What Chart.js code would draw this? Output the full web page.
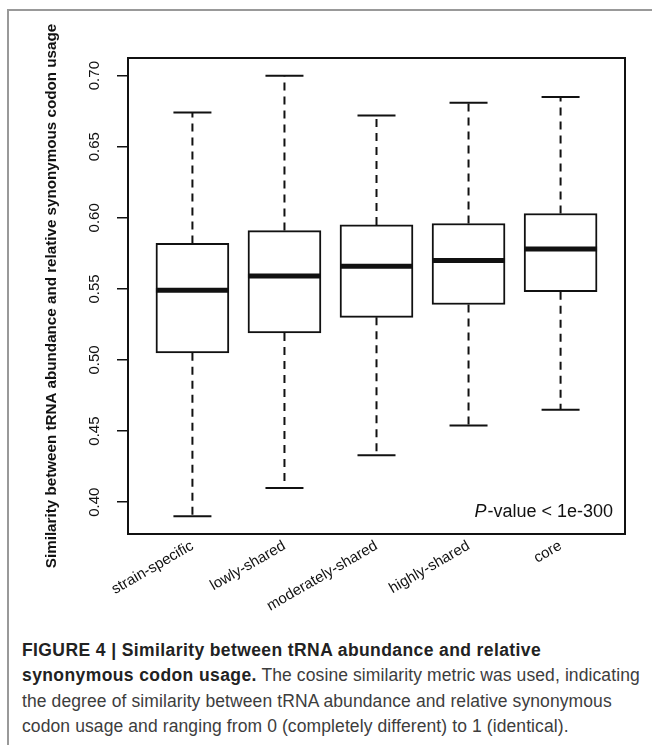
<!DOCTYPE html>
<html>
<head>
<meta charset="utf-8">
<script src="https://cdn.jsdelivr.net/npm/chart.js@4.4.1/dist/chart.umd.min.js"></script>
<style>
  body { margin: 0; background: #fff; width: 652px; height: 745px; overflow: hidden; position: relative; font-family: "Liberation Sans", Arial, sans-serif; }
  #frame { position: absolute; left: 7px; top: 9px; width: 700px; height: 800px; border-left: 2px solid #999; border-top: 2px solid #999; }
  #wrap { position: absolute; left: 0; top: 0; width: 652px; height: 620px; }
  .cap { position: absolute; left: 22px; font-size: 17.5px; letter-spacing: 0.1px; line-height: 20px; color: #3d3d3d; white-space: nowrap; }
  .cap b { color: #222; letter-spacing: 0.4px; }
</style>
</head>
<body>
<div id="frame"></div>
<div id="wrap"><canvas id="chart" width="652" height="620"></canvas></div>
<div class="cap" style="top:640px"><b>FIGURE 4 | Similarity between tRNA abundance and relative</b></div>
<div class="cap" style="top:665px"><b>synonymous codon usage.</b> The cosine similarity metric was used, indicating</div>
<div class="cap" style="top:691px">the degree of similarity between tRNA abundance and relative synonymous</div>
<div class="cap" style="top:716px">codon usage and ranging from 0 (completely different) to 1 (identical).</div>
<script>
const categories = ['strain-specific', 'lowly-shared', 'moderately-shared', 'highly-shared', 'core'];
const whiskerLow  = [0.390, 0.410, 0.433, 0.454, 0.465];
const quartile1   = [0.505, 0.519, 0.530, 0.539, 0.548];
const medians     = [0.549, 0.559, 0.566, 0.570, 0.578];
const quartile3   = [0.582, 0.591, 0.595, 0.596, 0.603];
const whiskerHigh = [0.674, 0.700, 0.672, 0.681, 0.685];
const yTicks = [0.40, 0.45, 0.50, 0.55, 0.60, 0.65, 0.70];

// R style axis padding (4% of the range)
const lo = Math.min(...whiskerLow), hi = Math.max(...whiskerHigh);
const pad = (hi - lo) * 0.04;

const ink = '#111';
const fontFam = '"Liberation Sans", Arial, sans-serif';
const padLeft = 42.9;

// whisker segments: box edge -> whisker end, a gap, then the other side
const whiskerSets = categories.map((c, i) => ({
  type: 'line',
  data: [
    { x: i + 1, y: quartile3[i] }, { x: i + 1, y: whiskerHigh[i] },
    { x: i + 1, y: null },
    { x: i + 1, y: quartile1[i] }, { x: i + 1, y: whiskerLow[i] }
  ],
  borderColor: ink,
  borderWidth: 2,
  borderDash: [8, 6],
  pointRadius: 0,
  spanGaps: false,
  order: 3
}));

const boxPlotFrame = {
  id: 'boxPlotFrame',
  afterDraw(chart) {
    const { ctx, chartArea: a } = chart;
    ctx.save();
    ctx.strokeStyle = ink;
    ctx.lineWidth = 2;
    ctx.strokeRect(a.left, a.top, a.right - a.left, a.bottom - a.top);
    // p-value note
    ctx.fillStyle = ink;
    ctx.textBaseline = 'alphabetic';
    const rest = '-value < 1e-300';
    ctx.font = '18px ' + fontFam;
    const wRest = ctx.measureText(rest).width;
    ctx.font = 'italic 18px ' + fontFam;
    const wP = ctx.measureText('P').width;
    const xr = a.right - 12, yb = a.bottom - 17;
    ctx.fillText('P', xr - wRest - wP - 1, yb);
    ctx.font = '18px ' + fontFam;
    ctx.fillText(rest, xr - wRest, yb);
    ctx.restore();
  }
};

new Chart(document.getElementById('chart'), {
  type: 'bar',
  data: {
    datasets: [
      {
        type: 'line',
        data: medians.map((m, i) => ({ x: i + 1, y: m })),
        showLine: false,
        pointStyle: 'line',
        pointRadius: 36.5,
        pointBorderWidth: 5,
        pointBorderColor: ink,
        order: 0
      },
      {
        type: 'line',
        data: categories.flatMap((c, i) => [{ x: i + 1, y: whiskerLow[i] }, { x: i + 1, y: whiskerHigh[i] }]),
        showLine: false,
        pointStyle: 'line',
        pointRadius: 19,
        pointBorderWidth: 2,
        pointBorderColor: ink,
        order: 1
      },
      {
        type: 'bar',
        data: categories.map((c, i) => ({ x: i + 1, y: [quartile1[i], quartile3[i]] })),
        backgroundColor: '#fff',
        borderColor: ink,
        borderWidth: 2,
        borderSkipped: false,
        barThickness: 73,
        order: 2
      },
      ...whiskerSets
    ]
  },
  options: {
    responsive: false,
    animation: false,
    events: [],
    layout: { autoPadding: false, padding: { left: padLeft, top: 58, right: 27, bottom: 0 } },
    plugins: {
      legend: { display: false },
      tooltip: { enabled: false }
    },
    scales: {
      x: {
        type: 'linear',
        offset: false,
        min: 0.3,
        max: categories.length + 0.7,
        grid: { display: false, drawTicks: false },
        border: { display: false },
        afterBuildTicks: s => { s.ticks = categories.map((c, i) => ({ value: i + 1 })); },
        afterFit: s => { s.height = 86; s.paddingLeft = 0; s.paddingRight = 0; },
        ticks: {
          autoSkip: false,
          minRotation: 30,
          maxRotation: 30,
          padding: 3,
          color: ink,
          font: { size: 15, family: fontFam },
          callback: v => categories[v - 1]
        }
      },
      y: {
        type: 'linear',
        min: lo - pad,
        max: hi + pad,
        border: { display: false },
        grid: { drawOnChartArea: false, tickLength: 11, color: ink, lineWidth: 1.5 },
        afterBuildTicks: s => { s.ticks = yTicks.map(v => ({ value: v })); },
        afterFit: s => { s.width = 128 - padLeft; },
        ticks: {
          autoSkip: false,
          minRotation: 90,
          maxRotation: 90,
          crossAlign: 'center',
          padding: 8,
          color: ink,
          font: { size: 15, family: fontFam },
          callback: v => v.toFixed(2)
        },
        title: {
          display: true,
          text: 'Similarity between tRNA abundance and relative synonymous codon usage',
          color: ink,
          padding: 0,
          font: { size: 15.2, weight: 'bold', family: fontFam }
        }
      }
    }
  },
  plugins: [boxPlotFrame]
});
</script>
</body>
</html>
